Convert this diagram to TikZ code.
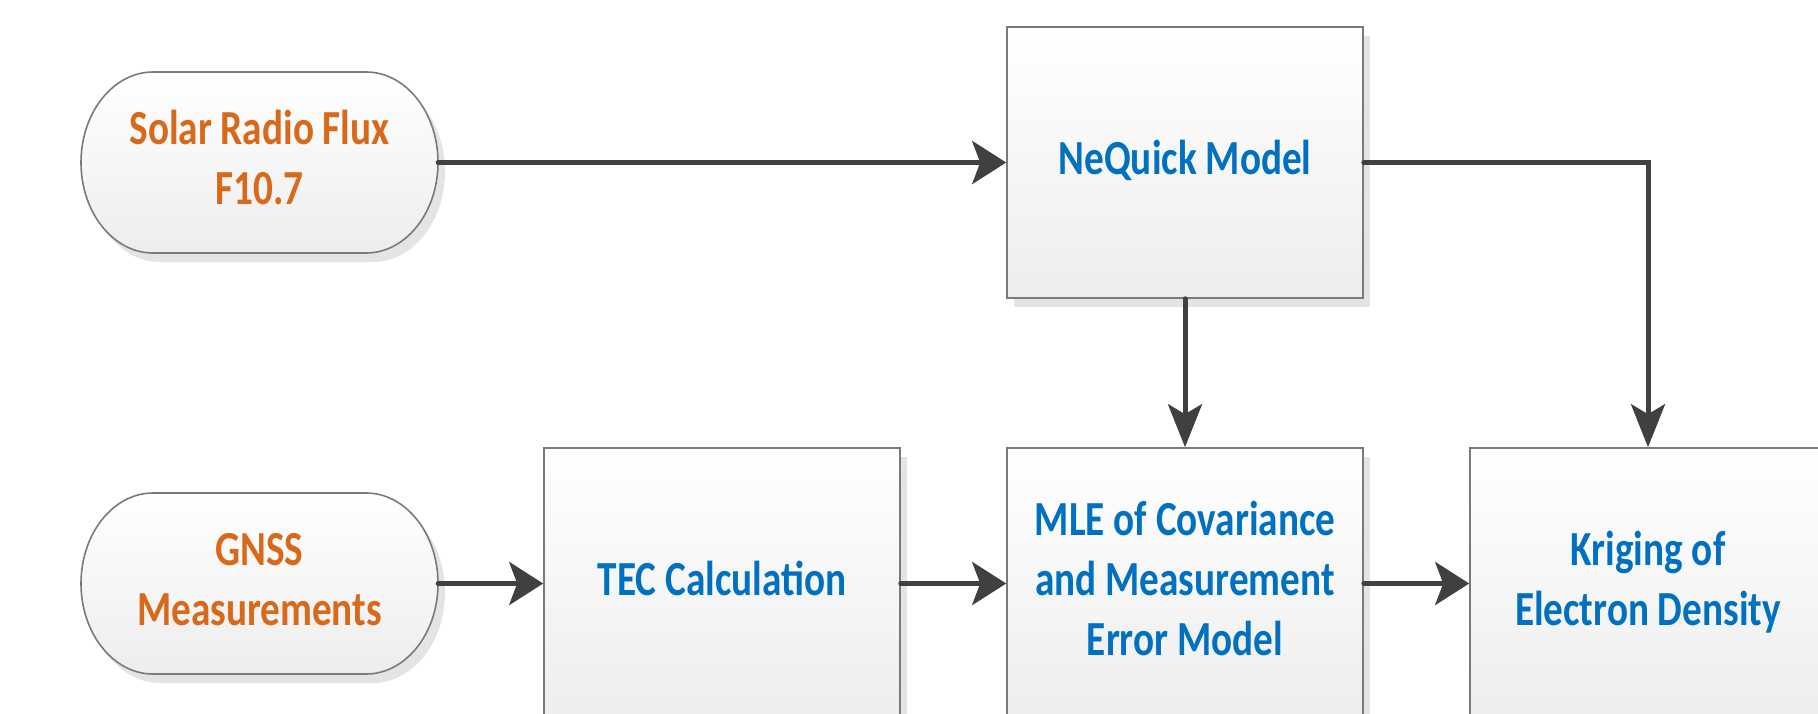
\documentclass[tikz,border=0pt]{standalone}
\usepackage{graphicx}
\usepackage{fontspec}
\setmainfont{Carlito}
\usetikzlibrary{arrows.meta,shadows}
\definecolor{cline}{HTML}{404040}
\definecolor{cborder}{HTML}{7A7A7A}
\definecolor{corange}{HTML}{D9691A}
\definecolor{cblue}{HTML}{0070C0}
\definecolor{cshadow}{HTML}{E4E4E4}
\newcommand\lbl[1]{\scalebox{0.8}[1]{\begin{tabular}{@{}c@{}}#1\end{tabular}}}
\tikzset{
  blockbox/.style={rectangle, draw=cborder, line width=1.6pt, top color=white, bottom color=black!7,
    minimum width=356pt, minimum height=271pt, inner sep=0pt, text=cblue,
    font=\fontsize{49}{60}\selectfont\bfseries,
    drop shadow={shadow xshift=7pt, shadow yshift=-9pt, fill=cshadow, opacity=1}},
  pilltext/.style={rectangle, minimum width=357pt, minimum height=181pt, inner sep=0pt, text=corange,
    font=\fontsize{49}{60}\selectfont\bfseries},
  pillshape/.style={draw=cborder, line width=1.6pt, top color=white, bottom color=black!7},
  conn/.style={line width=5pt, draw=cline, line cap=round},
  harr/.style={conn, -{Stealth[length=34pt,width=43pt,inset=8pt]}},
  varr/.style={conn, -{Stealth[length=43pt,width=34pt,inset=10pt]}}
}
\begin{document}
\begin{tikzpicture}[x=1pt,y=-1pt]
\path[use as bounding box, clip] (0,0) rectangle (1818,713);
\fill[white] (0,0) rectangle (1818,713);
% pill shadows
\fill[cshadow] (160,81) -- (373,81) arc[start angle=-90,end angle=90,x radius=72,y radius=90.5] -- (160,262) arc[start angle=90,end angle=270,x radius=72,y radius=90.5] -- cycle;
\fill[cshadow] (160,502) -- (373,502) arc[start angle=-90,end angle=90,x radius=72,y radius=90.5] -- (160,683) arc[start angle=90,end angle=270,x radius=72,y radius=90.5] -- cycle;
% pills
\path[pillshape] (153,72) -- (366,72) arc[start angle=-90,end angle=90,x radius=72,y radius=90.5] -- (153,253) arc[start angle=90,end angle=270,x radius=72,y radius=90.5] -- cycle;
\path[pillshape] (153,493) -- (366,493) arc[start angle=-90,end angle=90,x radius=72,y radius=90.5] -- (153,674) arc[start angle=90,end angle=270,x radius=72,y radius=90.5] -- cycle;
\node[pilltext] (solar) at (259.5,162.5) {\lbl{Solar Radio Flux\\F10.7}};
\node[pilltext] (gnss) at (259.5,583.5) {\lbl{GNSS\\Measurements}};
% blocks
\node[blockbox] (neq) at (1185,162.5) {\lbl{NeQuick Model}};
\node[blockbox] (tec) at (722,583.5) {\lbl{TEC Calculation}};
\node[blockbox] (mle) at (1185,583.5) {\lbl{MLE of Covariance\\and Measurement\\Error Model}};
\node[blockbox] (kri) at (1648,583.5) {\lbl{Kriging of\\Electron Density}};
% connectors
\draw[harr] (solar.east) -- (neq.west);
\draw[harr] (gnss.east) -- (tec.west);
\draw[harr] (tec.east) -- (mle.west);
\draw[harr] (mle.east) -- (kri.west);
\draw[varr] (neq.south) -- (mle.north);
\draw[varr] (neq.east) -| (kri.north);
\end{tikzpicture}
\end{document}
